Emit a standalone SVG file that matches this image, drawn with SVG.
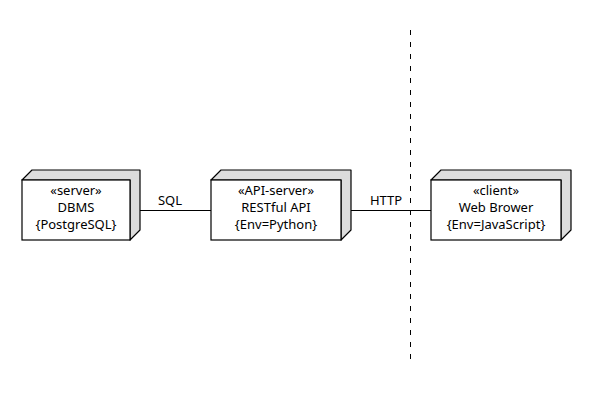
<svg xmlns="http://www.w3.org/2000/svg" width="590" height="400" viewBox="0 0 590 400">
<style>
.face{fill:#ffffff;stroke:#000;stroke-width:1.2}
.side{fill:#dcdcdc;stroke:#000;stroke-width:1.2;stroke-linejoin:round}
text{font-family:"Noto Sans","DejaVu Sans",sans-serif;font-size:13px;fill:#000}
.c{text-anchor:middle}
.edge{stroke:#000;stroke-width:1;fill:none}
</style>
<rect width="590" height="400" fill="#fff"/>
<g id="boundary">
<line x1="410.5" y1="30" x2="410.5" y2="360" stroke="#000" stroke-width="1" stroke-dasharray="5,7"/>
</g>
<g id="connectors">
<line class="edge" x1="130" y1="210.5" x2="211" y2="210.5"/>
<line class="edge" x1="341" y1="210.5" x2="431" y2="210.5"/>
<text x="170" y="205" class="c">SQL</text>
<text x="386" y="205" class="c">HTTP</text>
</g>
<g id="dbms">
<path class="side" d="M22,180 L32,170 L140,170 L140,230 L130,240 L130,180 Z"/>
<rect class="face" x="22" y="180" width="108" height="60"/>
<text x="76" y="195" class="c">«server»</text>
<text x="76" y="212" class="c">DBMS</text>
<text x="76" y="229" class="c">{PostgreSQL}</text>
</g>
<g id="api">
<path class="side" d="M211,180 L221,170 L351,170 L351,230 L341,240 L341,180 Z"/>
<rect class="face" x="211" y="180" width="130" height="60"/>
<text x="276" y="195" class="c">«API-server»</text>
<text x="276" y="212" class="c">RESTful API</text>
<text x="276" y="229" class="c">{Env=Python}</text>
</g>
<g id="client">
<path class="side" d="M431,180 L441,170 L571,170 L571,230 L561,240 L561,180 Z"/>
<rect class="face" x="431" y="180" width="130" height="60"/>
<text x="496" y="195" class="c">«client»</text>
<text x="496" y="212" class="c">Web Brower</text>
<text x="496" y="229" class="c">{Env=JavaScript}</text>
</g>
</svg>
